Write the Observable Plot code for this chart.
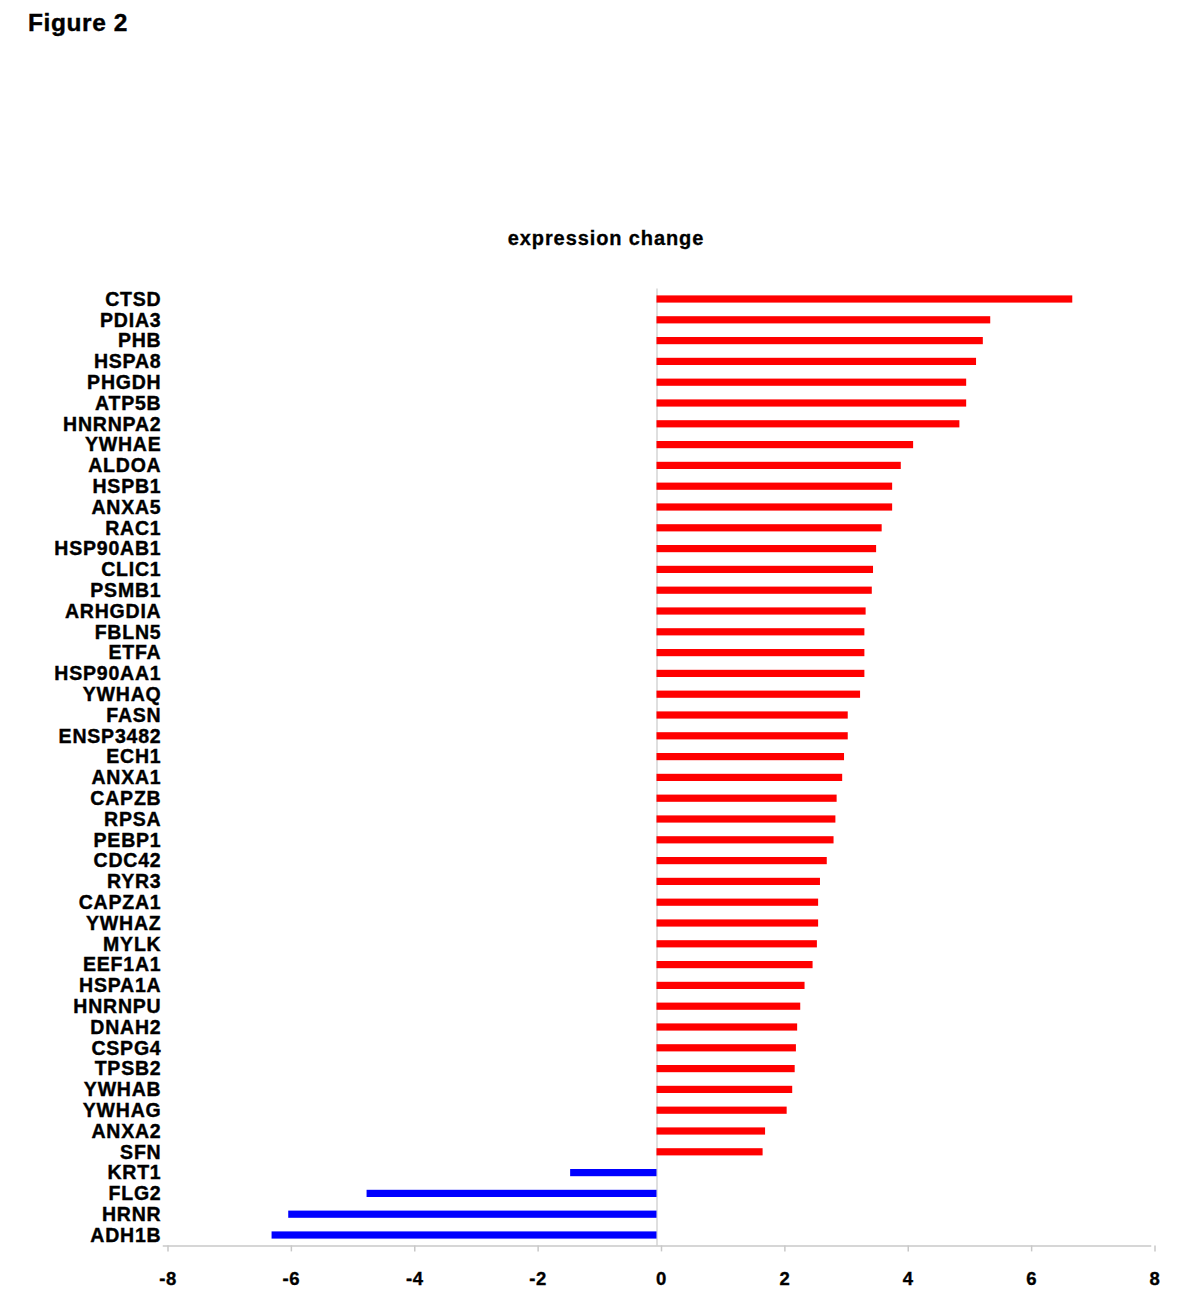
<!DOCTYPE html>
<html>
<head>
<meta charset="utf-8">
<script src="https://cdn.jsdelivr.net/npm/d3@7"></script>
<script src="https://cdn.jsdelivr.net/npm/@observablehq/plot@0.6"></script>
<style>
  body { margin: 0; background: #fff; font-family: "Liberation Sans", Arial, sans-serif; }
  #wrap { position: relative; width: 1200px; height: 1297px; }
  .fig { position: absolute; left: 28px; top: 11px; font-size: 24.5px; letter-spacing: 0.6px; font-weight: bold; line-height: 24.5px; color: #000; white-space: nowrap; -webkit-text-stroke: 0.4px #000; }
  .title { position: absolute; left: 606px; top: 228px; transform: translateX(-50%); font-size: 20px; letter-spacing: 0.9px; font-weight: bold; line-height: 20px; white-space: nowrap; color: #000; -webkit-text-stroke: 0.3px #000; }
  #chart { position: absolute; left: 0; top: 260px; }
  g[aria-label="x-axis tick label"] { fill: #000; stroke: #000; stroke-width: 0.35px; letter-spacing: 0.6px; }
  g[aria-label="y-axis tick label"] { stroke: #000; stroke-width: 0.4px; letter-spacing: 0.8px; }
</style>
</head>
<body>
<div id="wrap">
  <div class="fig">Figure 2</div>
  <div class="title">expression change</div>
  <div id="chart"></div>
</div>
<script>
const genes = ["CTSD","PDIA3","PHB","HSPA8","PHGDH","ATP5B","HNRNPA2","YWHAE","ALDOA","HSPB1","ANXA5","RAC1","HSP90AB1","CLIC1","PSMB1","ARHGDIA","FBLN5","ETFA","HSP90AA1","YWHAQ","FASN","ENSP3482","ECH1","ANXA1","CAPZB","RPSA","PEBP1","CDC42","RYR3","CAPZA1","YWHAZ","MYLK","EEF1A1","HSPA1A","HNRNPU","DNAH2","CSPG4","TPSB2","YWHAB","YWHAG","ANXA2","SFN","KRT1","FLG2","HRNR","ADH1B"];
const changes = [6.74,5.41,5.29,5.18,5.02,5.02,4.91,4.16,3.96,3.82,3.82,3.65,3.56,3.51,3.49,3.39,3.37,3.37,3.37,3.30,3.10,3.10,3.04,3.01,2.92,2.90,2.87,2.76,2.65,2.62,2.62,2.60,2.53,2.40,2.33,2.28,2.26,2.24,2.20,2.11,1.76,1.72,-1.40,-4.70,-5.97,-6.24];
const xTicks = [-8,-6,-4,-2,0,2,4,6,8];

const data = genes.map((g, i) => ({gene: g, value: changes[i]}));

const chart = Plot.plot({
  width: 1200,
  height: 1037,
  marginTop: 28.6,
  marginBottom: 51.6,
  marginLeft: 163,
  marginRight: 50,
  style: { fontFamily: "'Liberation Sans', Arial, sans-serif", background: "#fff", color: "#000" },
  x: { domain: [-8, 8], ticks: xTicks, label: null },
  y: { domain: genes, padding: 0, label: null },
  marks: [
    Plot.ruleX([0], { stroke: "#d4d4d4", strokeWidth: 1.5 }),
    Plot.frame({ anchor: "bottom", stroke: "#c8c8c8", strokeWidth: 1.5 }),
    Plot.barX(data, {
      x: "value", y: "gene",
      fill: d => d.value >= 0 ? "#ff0000" : "#0000ff",
      insetTop: 6.8, insetBottom: 6.8
    }),
    Plot.axisX({ ticks: xTicks, tickSize: 6, tickPadding: 20, stroke: "#c8c8c8", strokeWidth: 1.5, fontSize: 18.5, fontWeight: "bold", dx: 4.5, label: null, tickFormat: d => String(d).replace("\u2212", "-") }),
    Plot.axisY({ tickSize: 0, tickPadding: 2, fontSize: 19.5, fontWeight: "bold", label: null })
  ]
});
document.getElementById("chart").appendChild(chart);
</script>
</body>
</html>
